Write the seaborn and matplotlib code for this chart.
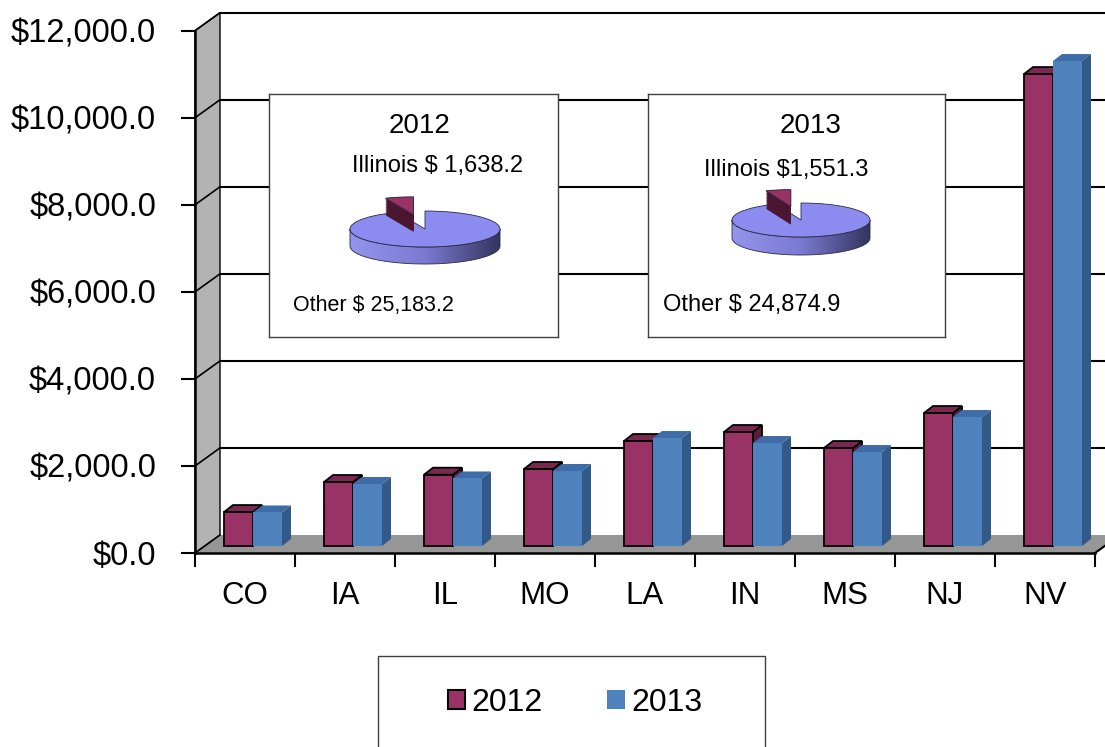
import numpy as np
import pandas as pd
import matplotlib
matplotlib.use("Agg")
import matplotlib.pyplot as plt
import seaborn as sns
from matplotlib.patches import Polygon, Rectangle, Patch
from matplotlib.transforms import offset_copy
from matplotlib.colors import LinearSegmentedColormap

# data (millions of dollars)
states = ["CO", "IA", "IL", "MO", "LA", "IN", "MS", "NJ", "NV"]
rev_2012 = [780, 1470, 1638.2, 1769, 2412, 2619, 2251, 3055, 10843]
rev_2013 = [770, 1424, 1551.3, 1723, 2481, 2366, 2159, 2963, 11142]
years = ["2012", "2013"]
y_ticks = [0, 2000, 4000, 6000, 8000, 10000, 12000]

pie_2012 = [1638.2, 25183.2]
pie_2013 = [1551.3, 24874.9]
ill_label_2012 = "Illinois $ 1,638.2"
ill_label_2013 = "Illinois $1,551.3"
other_label_2012 = "Other $ 25,183.2"
other_label_2013 = "Other $ 24,874.9"

df = pd.DataFrame({
    "state": states * 2,
    "revenue": rev_2012 + rev_2013,
    "year": ["2012"] * len(states) + ["2013"] * len(states),
})

W, H = 1105, 747
sns.set_style("white")
plt.rcParams["font.family"] = ["Liberation Sans", "DejaVu Sans"]
plt.rcParams["text.color"] = "black"
plt.rcParams["xtick.color"] = "black"
plt.rcParams["ytick.color"] = "black"

fig = plt.figure(figsize=(W / 100, H / 100), dpi=100)
ax = fig.add_axes([195 / W, (H - 553) / H, 900 / W, (553 - 30.7) / H])

py = (553 - 30.7) / 12000          # pixels per dollar unit
DX, DY = 0.25, 18 / py             # depth of the box (back wall offset)

# left wall and floor
ax.add_patch(Polygon([(-0.5, 0), (-0.5 + DX, DY), (-0.5 + DX, 12000 + DY), (-0.5, 12000)],
                     closed=True, fc="#b3b3b3", ec="black", lw=1, clip_on=False, zorder=1))
ax.add_patch(Polygon([(-0.5, 0), (8.5, 0), (8.5 + DX, DY), (-0.5 + DX, DY)],
                     closed=True, fc="#969696", ec="none", clip_on=False, zorder=1))
ax.plot([8.5, 8.5 + DX], [0, DY], color="black", lw=1.5, clip_on=False, zorder=1.2)

# gridlines on back wall + diagonals on left wall
for v in y_ticks:
    if v > 0:
        ax.plot([-0.5 + DX, 9.5], [v + DY, v + DY], color="black", lw=1.5, clip_on=False, zorder=1.5)
    ax.plot([-0.5, -0.5 + DX], [v, v + DY], color="black", lw=1.2, clip_on=False, zorder=1.5)

sns.barplot(data=df, x="state", y="revenue", hue="year",
            palette={"2012": "#993366", "2013": "#4f81bd"},
            width=0.58, gap=0, saturation=1, legend=False, linewidth=0, ax=ax)

# fake 3D: move bars into the box and give them tops and sides
trans = offset_copy(ax.transData, fig=fig, x=8, y=7, units="dots")
ddx, ddy = 0.09, 7 / py
faces = {"2012": ("#7a2850", "#5c1c3d", "black", 1.3),
         "2013": ("#3d6ca6", "#315a88", "none", 0)}
for k, (cont, yr) in enumerate(zip(ax.containers, years)):
    top_c, side_c, ec, lw = faces[yr]
    for bar in cont:
        x0, w, h = bar.get_x(), bar.get_width(), bar.get_height()
        bar.set_transform(trans)
        bar.set_edgecolor(ec)
        bar.set_linewidth(lw)
        bar.set_zorder(4 + 2 * k)
        bar.set_clip_on(False)
        side = Polygon([(x0 + w, 0), (x0 + w + ddx, ddy), (x0 + w + ddx, h + ddy), (x0 + w, h)],
                       closed=True, fc=side_c, ec=ec, lw=lw, transform=trans,
                       zorder=3 + 2 * k, clip_on=False)
        top = Polygon([(x0, h), (x0 + w, h), (x0 + w + ddx, h + ddy), (x0 + ddx, h + ddy)],
                      closed=True, fc=top_c, ec=ec, lw=lw, transform=trans,
                      zorder=3 + 2 * k, clip_on=False)
        ax.add_patch(side)
        ax.add_patch(top)

ax.set_xlim(-0.5, 8.5)
ax.set_ylim(0, 12000)
ax.set_xlabel("")
ax.set_ylabel("")
ax.set_facecolor("none")
ax.set_yticks(y_ticks)
ax.set_yticklabels([f"${v:,.1f}" for v in y_ticks], fontsize=23.5)
ax.set_xticks(np.arange(-0.5, 9, 1))
ax.set_xticklabels([])
ax.set_xticks(range(len(states)), minor=True)
ax.set_xticklabels(states, minor=True, fontsize=22.5)
ax.tick_params(axis="x", which="major", bottom=True, length=10, width=1.5, color="black")
ax.tick_params(axis="x", which="minor", bottom=True, length=0, pad=20, labelcolor="black")
ax.tick_params(axis="y", left=True, length=10, width=1.5, color="black", pad=18, labelcolor="black")
for s in ["top", "right"]:
    ax.spines[s].set_visible(False)
for s in ["left", "bottom"]:
    ax.spines[s].set_color("black")
    ax.spines[s].set_linewidth(1.8)
    ax.spines[s].set_zorder(10)


def px(x, y):
    return x / W, 1 - y / H


def inset_box(x0, y0, x1, y1):
    b = fig.add_axes([x0 / W, (H - y1) / H, (x1 - x0) / W, (y1 - y0) / H])
    b.set_xticks([])
    b.set_yticks([])
    b.set_facecolor("white")
    for s in b.spines.values():
        s.set_visible(True)
        s.set_color("#404040")
        s.set_linewidth(1)
    return b


side_cmap = LinearSegmentedColormap.from_list("side", ["#9494ec", "#7a7ad2", "#34345e"])


def draw_pie(vals, cx, cy, rx, ry, t):
    a = fig.add_axes([(cx - 1.5 * rx) / W, (H - cy - 3 * ry) / H, 3 * rx / W, 6 * ry / H])
    a.set_facecolor("none")
    tt = t / ry
    th = np.linspace(np.pi, 2 * np.pi, 120)
    xs, ys = np.cos(th), np.sin(th)
    verts = np.r_[np.c_[xs, ys], np.c_[xs[::-1], ys[::-1] - tt]]
    band = Polygon(verts, closed=True, fc="none", ec="#2a2a48", lw=0.6, zorder=1)
    a.add_patch(band)
    im = a.imshow(np.linspace(0, 1, 256)[None, :], cmap=side_cmap,
                  extent=(-1, 1, -1 - tt, 0), aspect="auto", zorder=0.9)
    im.set_clip_path(band)
    exp = (0.8, 0)
    n = 24
    for k in range(n):
        off = -tt * (1 - k / (n - 1))
        wd, _ = a.pie(vals, center=(0, off), startangle=90, colors=["#4a1632", "none"],
                      explode=exp, wedgeprops=dict(lw=0))
        wd[0].set_zorder(3)
        wd[1].set_visible(False)
    wd, _ = a.pie(vals, startangle=90, colors=["#993366", "#8c8cf0"], explode=exp,
                  wedgeprops=dict(lw=0.6, edgecolor="#2a2a48"))
    wd[0].set_zorder(4)
    wd[1].set_zorder(2)
    a.set_aspect("auto")
    a.set_xlim(-1.5, 1.5)
    a.set_ylim(-3, 3)
    a.axis("off")


inset_box(269, 94, 558, 337)
inset_box(648, 94, 945, 337)
draw_pie(pie_2012, 425, 229, 75, 18, 17)
draw_pie(pie_2013, 801, 220, 69, 17, 18)

fig.text(*px(420, 126), "2012", fontsize=20, ha="center", va="center")
fig.text(*px(438, 166), ill_label_2012, fontsize=17, ha="center", va="center")
fig.text(*px(293, 305), other_label_2012, fontsize=15.5, ha="left", va="center")
fig.text(*px(811, 126), "2013", fontsize=20, ha="center", va="center")
fig.text(*px(786, 170), ill_label_2013, fontsize=17, ha="center", va="center")
fig.text(*px(663, 305), other_label_2013, fontsize=17, ha="left", va="center")

# legend box running off the bottom edge
fig.add_artist(Rectangle((378 / W, -0.1), 387 / W, (H - 656) / H + 0.1, transform=fig.transFigure,
                         fc="white", ec="#404040", lw=1, zorder=1))
handles = [Patch(fc="#993366", ec="black", lw=1.5), Patch(fc="#4f81bd", ec="none")]
fig.legend(handles, years, loc="center", bbox_to_anchor=px(575, 703), ncol=2, frameon=False,
           fontsize=23, handlelength=0.56, handleheight=0.56, handletextpad=0.2,
           columnspacing=2.0)

fig.savefig("out.png", dpi=100)
